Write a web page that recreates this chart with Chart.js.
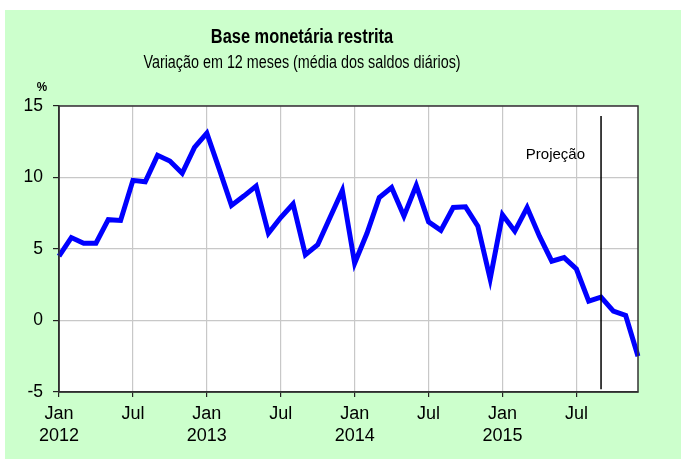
<!DOCTYPE html>
<html>
<head>
<meta charset="utf-8">
<script src="https://cdn.jsdelivr.net/npm/chart.js@4/dist/chart.umd.min.js"></script>
<style>
  html, body { margin: 0; padding: 0; background: #fff; }
  #wrap { position: absolute; left: 5px; top: 10px; width: 676px; height: 449px; }
</style>
</head>
<body>
<div id="wrap"><canvas id="chart" width="676" height="449"></canvas></div>
<script>
const monthNames = ['Jan', 'Fev', 'Mar', 'Abr', 'Mai', 'Jun', 'Jul', 'Ago', 'Set', 'Out', 'Nov', 'Dez']
const years = [2012, 2013, 2014, 2015]
const months = years.flatMap(y => monthNames.map(m => m + ' ' + y))

// variação em 12 meses, %
const values = [
  4.5, 5.8, 5.4, 5.4, 7.05, 7.0, 9.8, 9.7, 11.55, 11.15, 10.3, 12.1,
  13.1, 10.6, 8.05, 8.7, 9.4, 6.1, 7.2, 8.15, 4.6, 5.3, 7.2, 9.1,
  4.0, 6.1, 8.6, 9.3, 7.3, 9.45, 6.9, 6.3, 7.9, 7.95, 6.6, 2.9,
  7.4, 6.25, 7.9, 5.9, 4.15, 4.4, 3.6, 1.35, 1.63, 0.65, 0.35, -2.5,
]
const yTicks = [-5, 0, 5, 10, 15]
const projectionMonth = 'Set 2015'
const projectionSpan = [14.3, -4.8]

const FONT = "'Liberation Sans', Arial, sans-serif"

// narrow-looking text: squeeze horizontally
function narrowText(ctx, text, x, y, font, sx) {
  ctx.save()
  ctx.font = font
  ctx.translate(x, y)
  ctx.scale(sx, 1)
  ctx.fillText(text, 0, 0)
  ctx.restore()
}

const decor = {
  id: 'decor',
  beforeDraw(chart) {
    const { ctx, chartArea: a } = chart
    ctx.save()
    ctx.fillStyle = '#ccffcc'
    ctx.fillRect(0, 0, chart.width, chart.height)
    ctx.fillStyle = '#fff'
    ctx.fillRect(a.left, a.top, a.right - a.left, a.bottom - a.top)
    ctx.restore()
  },
  afterDatasetsDraw(chart) {
    const { ctx, chartArea: a, scales } = chart
    const px = scales.x.getPixelForValue(months.indexOf(projectionMonth))
    ctx.save()
    ctx.strokeStyle = '#000'
    ctx.lineWidth = 1.5
    ctx.beginPath()
    ctx.moveTo(px, scales.y.getPixelForValue(projectionSpan[0]))
    ctx.lineTo(px, scales.y.getPixelForValue(projectionSpan[1]))
    ctx.stroke()

    ctx.strokeStyle = '#333'
    ctx.strokeRect(a.left, a.top, a.right - a.left, a.bottom - a.top)

    ctx.fillStyle = '#000'
    ctx.textBaseline = 'middle'
    ctx.textAlign = 'right'
    ctx.font = '15px ' + FONT
    ctx.fillText('Projeção', px - 16, scales.y.getPixelForValue(11.6))

    ctx.textAlign = 'center'
    narrowText(ctx, 'Base monetária restrita', 297, 27, 'bold 20px ' + FONT, 0.82)
    narrowText(ctx, 'Variação em 12 meses (média dos saldos diários)', 297, 53, '17.5px ' + FONT, 0.82)
    narrowText(ctx, '%', 37, 77, 'bold 13px ' + FONT, 0.9)
    ctx.restore()
  },
}

Chart.defaults.font.family = FONT
Chart.defaults.color = '#000'

new Chart(document.getElementById('chart'), {
  type: 'line',
  data: {
    labels: months,
    datasets: [{
      data: values,
      borderColor: '#0000ff',
      borderWidth: 5,
      pointRadius: 0,
      tension: 0,
      fill: false,
    }],
  },
  options: {
    responsive: false,
    animation: false,
    layout: { padding: { top: 96, right: 43, left: 0, bottom: 0 } },
    plugins: { legend: { display: false }, tooltip: { enabled: false }, title: { display: false } },
    scales: {
      x: {
        offset: false,
        afterFit(s) { s.height = 67 },
        grid: { color: '#c8c8c8', tickColor: '#222', tickLength: 5, lineWidth: 1.2 },
        border: { color: '#222', width: 1.5 },
        ticks: {
          autoSkip: false,
          maxRotation: 0,
          padding: 7,
          font: { size: 18, lineHeight: 1.17 },
          callback(v, i) {
            if (i % 6 !== 0) return null
            const [m, y] = months[i].split(' ')
            return m === 'Jan' ? [m, y] : 'Jul'
          },
        },
      },
      y: {
        min: -5,
        max: 15,
        afterFit(s) { s.width = 54 },
        afterBuildTicks(s) { s.ticks = yTicks.map(v => ({ value: v })) },
        grid: { color: '#c8c8c8', tickColor: '#222', tickLength: 6, lineWidth: 1.2 },
        border: { color: '#222', width: 1.5 },
        ticks: { padding: 10, font: { size: 17.5 } },
      },
    },
  },
  plugins: [decor],
})
</script>
</body>
</html>
